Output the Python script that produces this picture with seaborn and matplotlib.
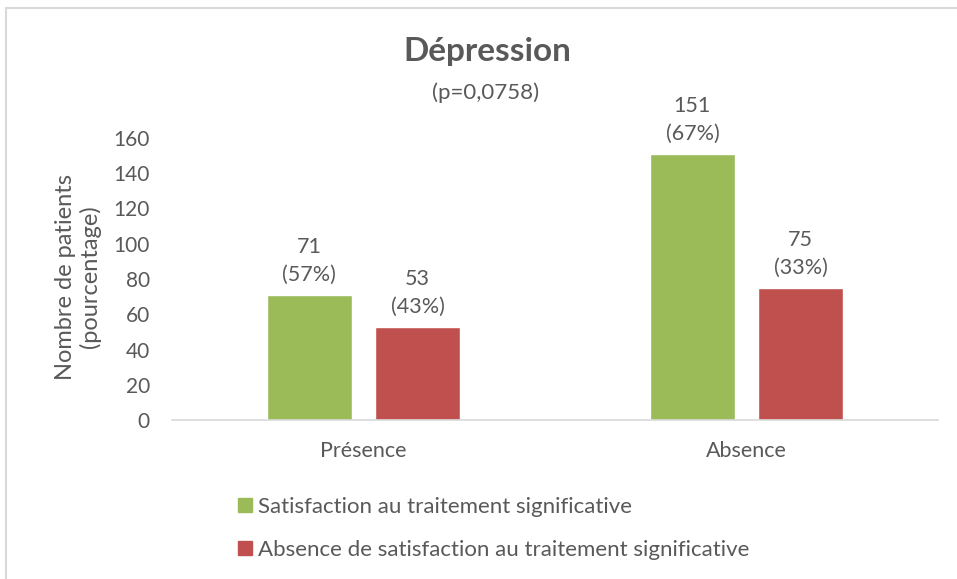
import pandas as pd
import seaborn as sns
import matplotlib.pyplot as plt
from matplotlib.lines import Line2D

# data
categories = ['Présence', 'Absence']
satisfied = [71, 151]
not_satisfied = [53, 75]
pct_satisfied = [57, 67]
pct_not_satisfied = [43, 33]
series_names = ['Satisfaction au traitement significative',
                'Absence de satisfaction au traitement significative']
colors = ['#9BBB59', '#C0504D']
y_ticks = [0, 20, 40, 60, 80, 100, 120, 140, 160]

df = pd.DataFrame({
    'groupe': categories * 2,
    'serie': [series_names[0]] * 2 + [series_names[1]] * 2,
    'n': satisfied + not_satisfied,
    'pct': pct_satisfied + pct_not_satisfied,
})

sns.set_style('white')
plt.rcParams['font.family'] = ['Lato', 'DejaVu Sans']
text_color = '#595959'

fig = plt.figure(figsize=(9.57, 5.79), dpi=100)
ax = fig.add_axes([172 / 957, 1 - 420 / 579, 766 / 957, 282 / 579])

sns.barplot(data=df, x='groupe', y='n', hue='serie', palette=colors,
            width=0.565, gap=0.21, ax=ax, legend=False, saturation=1)

ax.set_ylim(0, 160)
ax.set_xlim(-0.5, 1.5)
ax.set_yticks(y_ticks)
ax.tick_params(axis='y', length=0, pad=16, labelsize=15, labelcolor=text_color)
ax.tick_params(axis='x', length=0, pad=15, labelsize=15.5, labelcolor=text_color)
ax.set_xlabel('')
ax.set_ylabel('')
for side in ['top', 'right', 'left']:
    ax.spines[side].set_visible(False)
ax.spines['bottom'].set_color('#D9D9D9')
ax.spines['bottom'].set_linewidth(1.2)

fig.text(78 / 957, 1 - 277 / 579, 'Nombre de patients\n(pourcentage)', rotation=90,
         ha='center', va='center', multialignment='center', fontsize=17,
         color=text_color, linespacing=1.15)

# data labels
for container, vals, pcts in zip(ax.containers, [satisfied, not_satisfied],
                                 [pct_satisfied, pct_not_satisfied]):
    for bar, v, p in zip(container, vals, pcts):
        ax.annotate(f'{v}\n({p}%)', (bar.get_x() + bar.get_width() / 2, v),
                    xytext=(0, 7), textcoords='offset points', ha='center', va='bottom',
                    fontsize=15.5, color=text_color, linespacing=1.5)

fig.text(487 / 957, 1 - 52 / 579, 'Dépression', ha='center', va='center',
         fontsize=24, fontweight='bold', color=text_color)
fig.text(486 / 957, 1 - 93 / 579, '(p=0,0758)', ha='center', va='center',
         fontsize=16, color=text_color)

handles = [Line2D([0], [0], marker='s', linestyle='', markersize=10,
                  markerfacecolor=c, markeredgecolor=c) for c in colors]
fig.legend(handles, series_names, loc='upper left', bbox_to_anchor=(228 / 957, 1 - 488 / 579),
           frameon=False, fontsize=16, labelcolor=text_color, handlelength=0.7,
           handletextpad=0.25, labelspacing=1.05, borderaxespad=0)

# chart border (left and top edges visible in the reference)
fig.add_artist(Line2D([6 / 957, 6 / 957], [0, 1 - 8 / 579], transform=fig.transFigure,
                      color='#D9D9D9', linewidth=1.5))
fig.add_artist(Line2D([6 / 957, 1], [1 - 8 / 579, 1 - 8 / 579], transform=fig.transFigure,
                      color='#D9D9D9', linewidth=1.5))

plt.savefig('out.png', dpi=100)
plt.close()
